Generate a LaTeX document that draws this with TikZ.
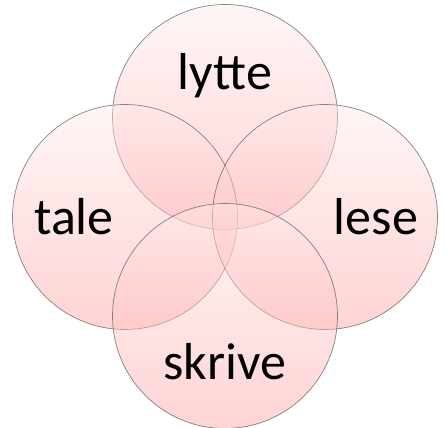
\documentclass[tikz,border=0pt]{standalone}
\usepackage{fontspec}
\setmainfont{Carlito}
\begin{document}
\begin{tikzpicture}[x=1pt,y=1pt,
  ring/.style={circle, minimum size=225pt, inner sep=0pt,
    top color=red!8, bottom color=red!38, fill opacity=0.45,
    draw=black!60, draw opacity=0.8, line width=0.7pt},
  word/.style={font=\fontsize{52}{60}\selectfont, text=black, inner sep=0pt, anchor=base}]
\useasboundingbox (0,0) rectangle (445,428);
\node[ring] (top) at (225,311) {};
\node[ring] (left) at (125,211) {};
\node[ring] (right) at (325,211) {};
\node[ring] (bottom) at (225,112) {};
\node[word] (lytte) at (225,338) {lytte};
\node[word] (tale) at (74,193) {tale};
\node[word] (lese) at (376,193) {lese};
\node[word] (skrive) at (225,48) {skrive};
\end{tikzpicture}
\end{document}
